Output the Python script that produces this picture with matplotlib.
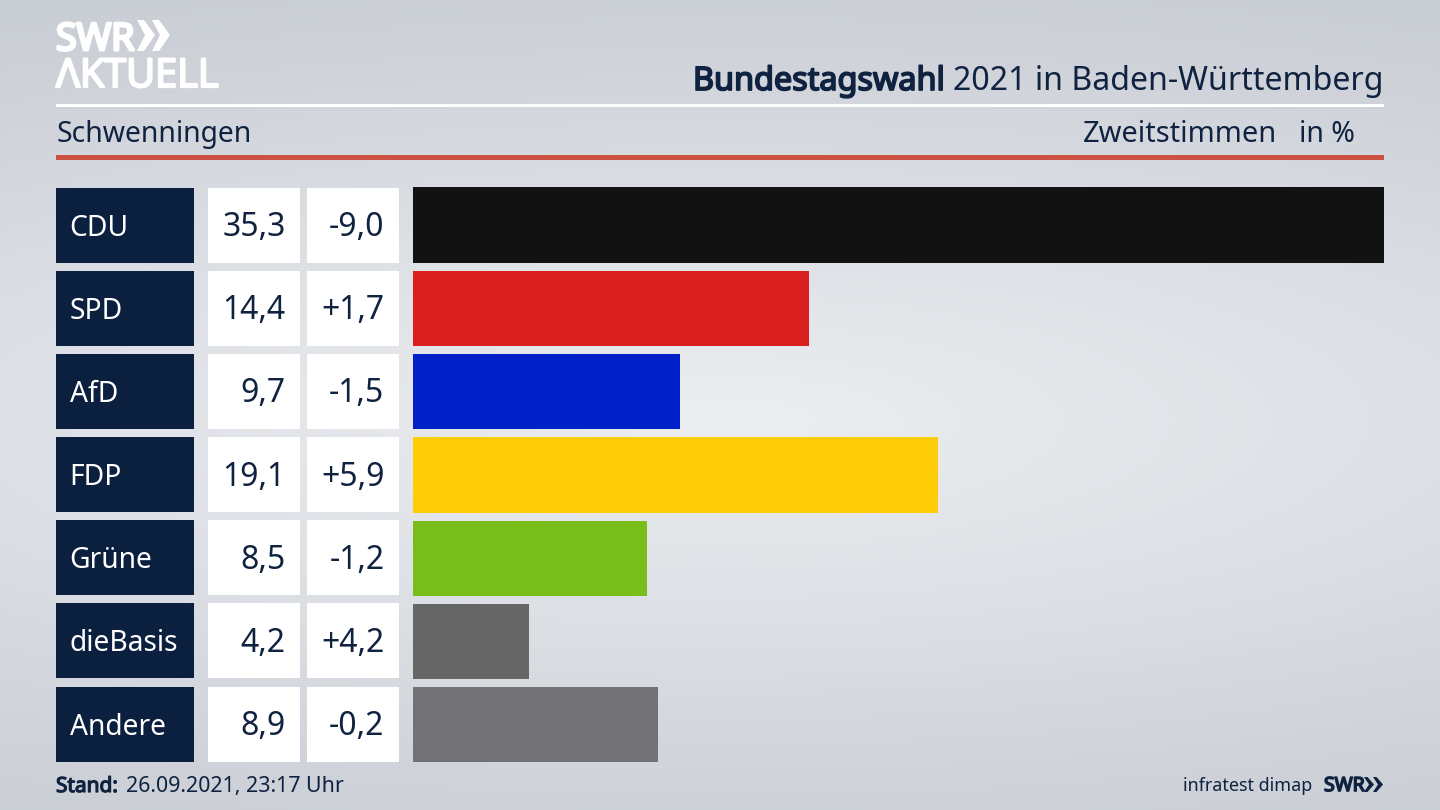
import matplotlib
matplotlib.use('Agg')
import matplotlib.pyplot as plt
import matplotlib.patheffects as pe
import numpy as np
from matplotlib.patches import Rectangle, Polygon

plt.rcParams['font.family'] = ['Noto Sans', 'DejaVu Sans']

parties = ['CDU', 'SPD', 'AfD', 'FDP', 'Grüne', 'dieBasis', 'Andere']
shares = [35.3, 14.4, 9.7, 19.1, 8.5, 4.2, 8.9]
changes = ['-9,0', '+1,7', '-1,5', '+5,9', '-1,2', '+4,2', '-0,2']
colors = ['#121212', '#d9201e', '#0021c8', '#ffcc08', '#78bd1a', '#666666', '#727274']

NAVY = '#0b1f3f'
TEXT = '#0f2240'


def heavy(color, width):
    # the installed fonts render no usable bold here, so thicken with a stroke
    return [pe.withStroke(linewidth=width, foreground=color)]


fig = plt.figure(figsize=(14.4, 8.1), dpi=100)

# background gradient
bg = fig.add_axes([0, 0, 1, 1])
yy, xx = np.mgrid[0:1:200j, 0:1:360j]
dist = np.sqrt(((xx - 0.5) / 1.15) ** 2 + ((yy - 0.52) / 0.56) ** 2)
shade = np.clip(dist, 0, 1)
low = np.array([0xc9, 0xcd, 0xd4]) / 255
high = np.array([0xec, 0xee, 0xf1]) / 255
bg.imshow(high + (low - high) * shade[..., None], extent=[0, 1440, 810, 0], aspect='auto')
bg.set_xlim(0, 1440)
bg.set_ylim(810, 0)
bg.axis('off')

# header rules
bg.add_patch(Rectangle((56, 104), 1328, 3, color='white', lw=0))
bg.add_patch(Rectangle((56, 155), 1328, 5, color='#cb5141', lw=0))

# logo
bg.text(56, 50, 'SWR', color='white', fontsize=27, va='baseline', family='Open Sans', path_effects=heavy('white', 2.2))
for x0 in (137, 152):
    bg.add_patch(Polygon([(x0, 20), (x0 + 7, 20), (x0 + 18, 35), (x0 + 7, 51), (x0, 51), (x0 + 8, 35)], color='white', lw=0))
bg.text(56, 87, 'ΛKTUELL', color='white', fontsize=28.6, va='baseline', family='Open Sans', path_effects=heavy('white', 1.6))

# titles
bg.text(693, 90, 'Bundestagswahl', color=TEXT, fontsize=23.3, va='baseline', path_effects=heavy(TEXT, 1.3))
bg.text(1383.5, 90, '2021 in Baden-Württemberg', color=TEXT, fontsize=23.1, ha='right', va='baseline')
bg.text(56, 142, 'Schwenningen', color=TEXT, fontsize=20.4, va='baseline')
bg.text(1277, 142, 'Zweitstimmen', color=TEXT, fontsize=20.9, ha='right', va='baseline')
bg.text(1355, 142, 'in %', color=TEXT, fontsize=20.5, ha='right', va='baseline')

# table cells next to the bars
row_top = 187.5
row_step = 83.17
row_h = 75
for i, party in enumerate(parties):
    top = row_top + i * row_step
    mid = top + row_h / 2
    bg.add_patch(Rectangle((56, top), 138, row_h, color=NAVY, lw=0))
    bg.add_patch(Rectangle((208, top), 92, row_h, color='white', lw=0))
    bg.add_patch(Rectangle((307, top), 92, row_h, color='white', lw=0))
    bg.text(69.5, mid + 10.5, party, color='white', fontsize=20.3, va='baseline')
    bg.text(285.5, mid + 11, f'{shares[i]:.1f}'.replace('.', ','), color=TEXT, fontsize=23, ha='right', va='baseline')
    bg.text(384.5, mid + 11, changes[i], color=TEXT, fontsize=23, ha='right', va='baseline')

# footer
bg.text(56, 792, 'Stand:', color=TEXT, fontsize=15, va='baseline', path_effects=heavy(TEXT, 0.9))
bg.text(126, 792, '26.09.2021, 23:17 Uhr', color=TEXT, fontsize=15.4, va='baseline')
bg.text(1312, 791, 'infratest dimap', color=TEXT, fontsize=12.9, ha='right', va='baseline')
bg.text(1324, 791, 'SWR', color=TEXT, fontsize=14, va='baseline', family='Open Sans', path_effects=heavy(TEXT, 1.2))
for x0 in (1364, 1373):
    bg.add_patch(Polygon([(x0, 777), (x0 + 3.5, 777), (x0 + 10, 784.5), (x0 + 3.5, 792), (x0, 792), (x0 + 5, 784.5)], color=TEXT, lw=0))

# bars
ax = fig.add_axes([413 / 1440, 1 - 762.5 / 810, 971 / 1440, 575 / 810])
ax.patch.set_alpha(0)
ax.barh(range(len(parties)), shares, height=row_h / row_step, color=colors)
ax.set_xlim(0, max(shares))
ax.set_ylim(len(parties) - 1 + row_h / row_step / 2, -row_h / row_step / 2)
ax.axis('off')

fig.savefig('out.png', dpi=100)
